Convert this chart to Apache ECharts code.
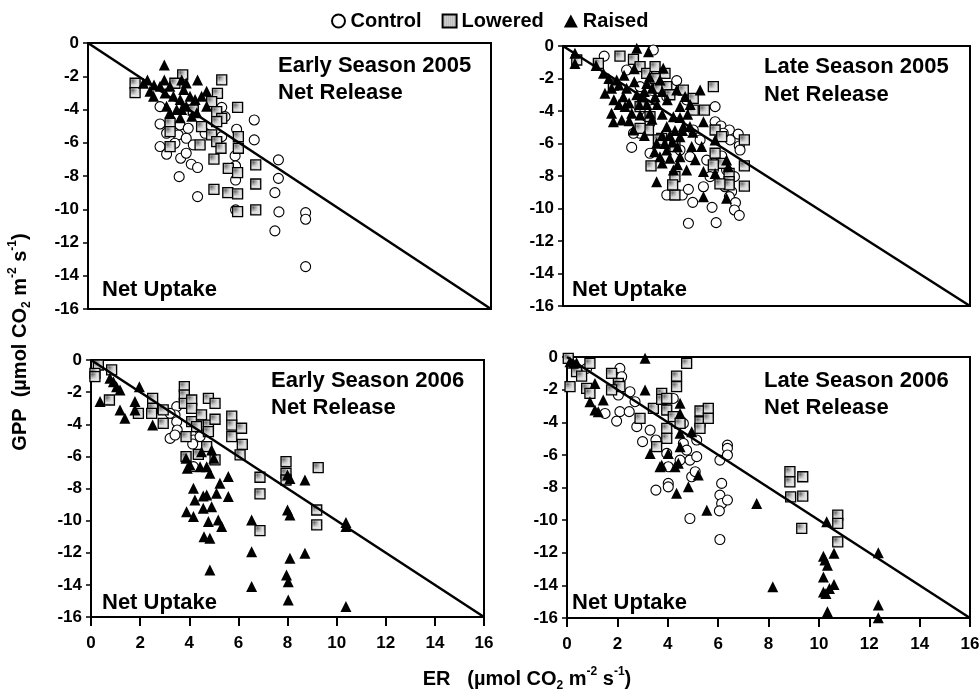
<!DOCTYPE html>
<html>
<head>
<meta charset="utf-8">
<script src="https://cdn.jsdelivr.net/npm/echarts@6/dist/echarts.min.js"></script>
<style>
  html, body { margin: 0; padding: 0; background: #fff; }
  #chart { width: 980px; height: 689px; }
</style>
</head>
<body>
<div id="chart"></div>
<script>
// ER (x) vs GPP (y), µmol CO2 m-2 s-1, by treatment and season
const panelTitles = ['Early Season 2005', 'Late Season 2005', 'Early Season 2006', 'Late Season 2006'];
const treatments = ['Control', 'Lowered', 'Raised'];
const xTicks = [0, 2, 4, 6, 8, 10, 12, 14, 16];
const yTicks = [0, -2, -4, -6, -8, -10, -12, -14, -16];
const oneToOne = [[0, 0], [16, -16]];

const early05Control = [[5.31,-3.87],[6.6,-4.63],[6.6,-5.83],[5.9,-5.19],[7.56,-7.03],[7.56,-8.14],[7.42,-9.0],[7.58,-10.16],[7.42,-11.3],[8.64,-10.2],[8.64,-10.6],[8.64,-13.45],[5.84,-6.79],[5.86,-7.4],[5.86,-8.24],[5.86,-10.04],[2.86,-4.87],[2.86,-6.23],[3.12,-6.69],[3.62,-8.04],[3.68,-6.93],[3.9,-6.63],[4.1,-7.29],[4.35,-7.49],[4.35,-9.24],[3.58,-5.53],[3.9,-5.73],[3.65,-4.93],[3.98,-5.13],[3.12,-5.43],[3.45,-6.03],[4.18,-6.13],[4.65,-5.43],[5.31,-5.63],[2.86,-3.83],[5.44,-4.43]];
const early05Lowered = [[1.87,-2.42],[1.87,-2.99],[3.76,-1.92],[3.45,-2.42],[5.31,-2.22],[5.14,-3.03],[4.91,-3.53],[5.11,-4.13],[5.31,-4.53],[5.11,-4.73],[5.94,-3.87],[4.51,-5.03],[4.45,-6.13],[4.91,-5.53],[5.11,-5.93],[5.28,-6.33],[5.97,-5.63],[5.97,-6.33],[3.26,-4.83],[3.26,-5.33],[3.26,-6.23],[5.0,-6.99],[5.57,-7.54],[5.94,-7.8],[6.66,-7.33],[6.66,-8.48],[5.0,-8.8],[5.55,-9.0],[5.94,-9.08],[5.94,-10.14],[6.66,-10.04],[4.18,-4.03]];
const early05Raised = [[3.03,-1.32],[2.36,-2.22],[2.62,-2.52],[2.2,-2.42],[2.6,-3.2],[3.03,-2.22],[3.06,-3.0],[3.12,-3.8],[3.25,-4.2],[3.72,-2.22],[3.8,-2.8],[3.66,-3.4],[3.72,-4.0],[3.9,-3.8],[4.05,-3.2],[4.35,-2.22],[4.25,-3.4],[4.32,-4.2],[4.71,-2.9],[4.71,-3.8],[4.51,-3.2],[3.52,-4.0],[3.39,-3.2],[2.86,-2.6],[2.46,-2.9],[4.12,-4.4],[3.25,-2.6],[3.9,-2.4],[3.66,-4.5]];

const late05Control = [[1.62,-0.62],[3.55,-0.25],[4.47,-2.13],[5.98,-3.73],[5.98,-4.66],[6.21,-4.92],[6.54,-5.17],[6.89,-5.42],[6.93,-6.15],[6.96,-6.4],[6.57,-5.78],[6.74,-8.04],[6.63,-8.96],[6.54,-9.27],[6.78,-9.64],[6.74,-10.09],[6.93,-10.42],[4.93,-10.91],[6.02,-10.87],[5.1,-9.62],[5.86,-9.93],[4.08,-9.17],[4.69,-9.17],[4.93,-8.82],[2.7,-6.24],[5.65,-7.02],[5.91,-7.63],[5.78,-8.04],[5.52,-8.66],[3.03,-5.37],[3.42,-6.6],[4.99,-6.81],[4.6,-6.4],[6.3,-5.37],[5.39,-5.78],[5.12,-5.17],[4.08,-3.12],[4.86,-3.32],[3.03,-2.5],[2.5,-1.48],[3.42,-3.32],[6.43,-7.63],[6.37,-8.66],[6.24,-6.77],[3.29,-4.35],[3.42,-4.76],[2.77,-5.37]];
const late05Lowered = [[2.24,-0.62],[2.77,-0.82],[3.03,-1.27],[3.29,-1.68],[3.62,-1.27],[4.01,-1.68],[3.75,-2.6],[4.08,-2.5],[4.73,-2.71],[5.12,-3.22],[5.91,-2.5],[5.56,-3.94],[5.12,-3.94],[5.98,-5.17],[6.24,-5.58],[7.13,-5.78],[7.13,-7.38],[7.13,-8.62],[5.98,-6.6],[6.24,-7.22],[5.91,-7.32],[6.53,-7.84],[6.53,-8.35],[6.53,-8.55],[6.17,-8.49],[3.46,-7.38],[3.88,-5.68],[4.4,-6.19],[4.4,-8.04],[4.4,-9.17],[4.31,-8.55],[3.36,-5.17],[3.03,-5.07],[1.98,-2.4],[1.39,-1.07],[0.54,-0.86],[3.75,-5.78],[3.03,-3.73],[3.42,-4.35],[3.62,-2.0],[4.2,-3.0]];
const late05Raised = [[0.47,-0.45],[0.47,-1.07],[1.65,-2.91],[1.91,-2.6],[1.91,-4.14],[1.98,-4.66],[2.31,-4.55],[2.44,-3.73],[2.77,-5.17],[2.7,-4.14],[1.59,-1.68],[2.11,-2.09],[2.37,-3.12],[2.9,-0.14],[3.36,-0.35],[3.94,-1.37],[3.81,-2.09],[3.62,-3.12],[3.42,-4.14],[3.09,-3.12],[3.29,-2.3],[4.47,-2.71],[4.6,-3.73],[4.34,-4.35],[4.08,-4.96],[3.68,-5.99],[4.08,-6.4],[4.34,-7.63],[4.86,-7.63],[3.68,-8.35],[4.6,-5.58],[4.99,-4.96],[5.39,-2.71],[5.52,-4.66],[5.45,-6.19],[5.98,-5.78],[6.43,-7.02],[6.5,-7.43],[5.52,-7.73],[5.98,-7.84],[5.52,-9.27],[6.43,-9.37],[5.06,-6.19],[4.73,-4.96],[3.03,-4.25],[3.81,-6.81],[4.6,-6.81],
  [1.3,-1.2],[1.8,-2.0],[2.0,-3.3],[2.2,-2.4],[2.5,-2.6],[2.6,-3.5],[2.8,-2.2],[2.9,-3.0],[3.0,-3.6],[3.2,-2.8],[3.3,-3.6],[3.5,-4.5],[3.5,-2.6],[3.7,-3.6],[3.9,-4.2],[3.9,-2.8],[4.1,-3.3],[4.2,-5.5],[4.3,-5.9],[4.4,-5.2],[3.9,-5.5],[3.6,-6.5],[3.9,-7.2],[4.2,-6.9],[4.5,-6.2],[4.7,-5.2],[4.9,-4.2],[5.1,-5.3],[5.2,-7.0],[4.5,-7.3],[3.2,-5.5],[2.6,-4.6],[2.2,-3.6],[4.8,-3.1],[5.0,-3.6],[3.4,-1.9],[2.8,-1.4],[2.4,-1.8],[4.0,-6.0],[4.6,-4.4]];

const early06Control = [[3.49,-2.9],[3.42,-3.42],[3.49,-3.84],[3.51,-4.36],[3.22,-4.88],[3.42,-4.67],[4.17,-4.98],[4.14,-5.23],[4.17,-6.64],[4.44,-4.36],[4.44,-4.77],[3.22,-3.32]];
const early06Lowered = [[0.3,-0.31],[0.16,-0.83],[0.16,-1.04],[0.84,-0.62],[0.75,-2.49],[1.93,-3.32],[2.51,-2.39],[2.51,-3.01],[2.47,-3.32],[2.94,-3.11],[2.94,-3.94],[3.8,-1.66],[3.8,-2.18],[3.8,-2.7],[4.1,-2.49],[4.1,-3.01],[4.1,-3.84],[3.87,-4.77],[3.87,-6.02],[4.5,-3.42],[4.5,-4.05],[4.78,-2.39],[4.78,-4.05],[4.78,-4.46],[5.05,-2.7],[5.05,-3.69],[4.37,-5.87],[4.71,-5.39],[5.05,-6.22],[5.73,-3.49],[5.73,-4.05],[5.73,-4.77],[6.13,-4.25],[6.16,-5.25],[6.07,-5.91],[6.88,-7.3],[6.88,-8.34],[6.88,-10.62],[7.94,-6.33],[7.94,-7.05],[7.94,-7.47],[9.25,-6.7],[9.19,-9.34],[9.19,-10.27],[4.3,-4.15]];
const early06Raised = [[0.37,-2.59],[0.77,-1.14],[0.91,-1.35],[1.04,-1.66],[1.18,-1.87],[1.18,-3.11],[1.38,-3.63],[1.79,-2.59],[1.79,-3.11],[1.97,-1.66],[2.51,-4.05],[3.87,-6.12],[3.92,-6.74],[3.89,-9.44],[4.17,-7.99],[4.23,-8.71],[4.17,-9.75],[4.44,-6.64],[4.57,-8.46],[4.57,-9.23],[4.5,-5.71],[4.71,-6.64],[4.71,-8.4],[4.6,-11.0],[4.84,-11.1],[4.78,-10.06],[4.91,-9.13],[4.84,-7.05],[5.0,-6.12],[5.11,-8.3],[5.18,-9.96],[5.25,-7.68],[5.32,-10.37],[5.59,-7.26],[5.59,-8.5],[4.84,-13.07],[4.91,-5.6],[6.54,-9.96],[6.54,-11.93],[6.54,-14.1],[8.0,-7.16],[8.1,-7.37],[8.0,-9.34],[8.1,-9.65],[7.96,-13.38],[8.03,-13.8],[8.03,-14.94],[8.1,-12.34],[8.71,-7.47],[8.71,-12.03],[10.38,-10.12],[10.38,-10.37],[10.38,-15.35],[4.03,-6.54]];

const late06Control = [[0.78,-0.7],[2.1,-0.7],[2.17,-1.21],[2.04,-2.33],[2.5,-2.13],[1.51,-3.46],[1.97,-3.93],[2.1,-3.35],[2.47,-3.35],[2.7,-2.74],[2.77,-4.27],[3.0,-5.19],[3.3,-4.48],[3.53,-5.09],[3.53,-8.16],[4.02,-6.73],[4.02,-7.75],[4.02,-7.96],[4.22,-2.54],[4.62,-4.07],[4.62,-5.3],[4.88,-6.32],[4.95,-7.34],[5.09,-7.03],[5.15,-6.11],[5.15,-5.09],[4.88,-9.9],[6.07,-6.32],[6.14,-7.75],[6.07,-8.47],[6.14,-8.98],[6.05,-9.43],[6.07,-11.19],[6.37,-8.77],[6.37,-5.4],[6.37,-5.6],[6.37,-6.01],[4.75,-5.71],[3.96,-5.91],[4.49,-6.32]];
const late06Lowered = [[0.05,-0.08],[0.12,-1.82],[0.91,-0.39],[0.38,-0.9],[0.58,-1.17],[0.78,-1.92],[0.91,-2.23],[1.77,-1.0],[2.04,-1.62],[2.1,-1.82],[1.77,-2.02],[2.9,-3.76],[3.43,-3.15],[3.76,-2.23],[3.76,-2.6],[3.96,-2.54],[3.96,-3.25],[3.96,-4.38],[3.96,-4.99],[4.35,-1.17],[4.35,-1.82],[4.75,-0.39],[4.22,-3.66],[4.49,-4.07],[5.28,-3.31],[5.28,-3.97],[5.28,-4.38],[5.61,-3.15],[5.61,-3.76],[3.56,-5.5],[8.85,-7.03],[8.85,-7.65],[8.88,-8.57],[9.36,-7.34],[9.36,-8.53],[9.32,-10.51],[10.75,-9.69],[10.75,-10.2],[10.75,-11.33]];
const late06Raised = [[0.12,-0.29],[0.25,-0.39],[0.38,-0.35],[3.1,-0.08],[3.1,-2.02],[1.11,-1.62],[0.91,-2.74],[1.11,-3.25],[1.24,-3.35],[1.44,-2.64],[3.3,-5.91],[3.69,-6.73],[3.76,-6.63],[4.02,-5.91],[4.29,-6.73],[4.42,-6.52],[4.35,-8.36],[4.49,-2.84],[4.49,-3.46],[4.49,-4.68],[4.49,-5.5],[4.95,-4.58],[4.82,-7.96],[5.21,-7.24],[5.55,-9.39],[7.53,-8.98],[8.17,-14.09],[10.31,-10.1],[10.18,-12.21],[10.24,-12.45],[10.34,-12.76],[10.6,-12.03],[10.18,-13.48],[10.18,-14.4],[10.28,-14.5],[10.42,-14.19],[10.6,-13.95],[10.34,-15.62],[12.36,-12.0],[12.36,-15.21],[12.36,-15.98]];

const panelData = [
  [early05Control, early05Lowered, early05Raised],
  [late05Control, late05Lowered, late05Raised],
  [early06Control, early06Lowered, early06Raised],
  [late06Control, late06Lowered, late06Raised]
];

const FONT = '"Liberation Sans", Arial, Helvetica, sans-serif';

// dotted grey fill for the "Lowered" squares
function stipple() {
  const c = document.createElement('canvas');
  c.width = 2; c.height = 2;
  const g = c.getContext('2d');
  g.fillStyle = '#e4e4e4';
  g.fillRect(0, 0, 2, 2);
  g.fillStyle = '#6a6a6a';
  g.fillRect(1, 1, 1, 1);
  return c;
}
const dotFill = { image: stipple(), repeat: 'repeat' };

const symbolStyles = [
  { symbol: 'circle', symbolSize: 10, itemStyle: { color: '#ffffff', borderColor: '#000', borderWidth: 1.1, opacity: 1 }, z: 2 },
  { symbol: 'rect', symbolSize: 10, itemStyle: { color: dotFill, borderColor: '#000', borderWidth: 1.3, opacity: 1 }, z: 3 },
  { symbol: 'triangle', symbolSize: [11, 11], itemStyle: { color: '#000', borderWidth: 0, opacity: 1 }, z: 4 }
];

const grids = [
  { left: 88, top: 43, width: 403, height: 266 },
  { left: 563, top: 46, width: 407, height: 260 },
  { left: 91, top: 360, width: 393, height: 257 },
  { left: 567, top: 357, width: 403, height: 261 }
].map(g => Object.assign({ show: true, borderColor: '#000', borderWidth: 2, backgroundColor: 'transparent', outerBoundsMode: 'none', containLabel: false }, g));

const tickLabelStyle = { color: '#000', fontFamily: FONT, fontWeight: 'bold', fontSize: 17 };

const xAxes = grids.map((g, i) => ({
  type: 'value', gridIndex: i, min: xTicks[0], max: xTicks[xTicks.length - 1], interval: xTicks[1] - xTicks[0],
  axisLine: { show: true, onZero: false, lineStyle: { color: '#000', width: 2 } },
  axisTick: { show: i >= 2, length: 9, lineStyle: { color: '#000', width: 2 } },
  axisLabel: Object.assign({ show: i >= 2, margin: 18 }, tickLabelStyle),
  splitLine: { show: false }
}));

const yAxes = grids.map((g, i) => ({
  type: 'value', gridIndex: i, min: yTicks[yTicks.length - 1], max: yTicks[0], interval: yTicks[0] - yTicks[1],
  axisLine: { show: true, onZero: false, lineStyle: { color: '#000', width: 2 } },
  axisTick: { show: true, length: 5, lineStyle: { color: '#000', width: 1.5 } },
  axisLabel: Object.assign({ margin: 9 }, tickLabelStyle),
  splitLine: { show: false }
}));

const series = [];
panelData.forEach((sets, i) => {
  sets.forEach((pts, k) => {
    series.push(Object.assign({
      name: treatments[k], type: 'scatter', xAxisIndex: i, yAxisIndex: i, data: pts
    }, symbolStyles[k]));
  });
  series.push({
    name: '1:1', type: 'line', xAxisIndex: i, yAxisIndex: i, data: oneToOne,
    showSymbol: false, silent: true, z: 6,
    lineStyle: { color: '#000', width: 2.5 }
  });
});

const panelText = (x, y, text) => ({
  type: 'text', x, y, z: 100, silent: true,
  style: { text, font: 'bold 22px ' + FONT, fill: '#000', align: 'left', verticalAlign: 'middle' }
});

const unitRich = {
  b: { fontFamily: FONT, fontWeight: 'bold', fontSize: 20, lineHeight: 26, verticalAlign: 'middle', color: '#000' },
  s: { fontFamily: FONT, fontWeight: 'bold', fontSize: 12, lineHeight: 12, verticalAlign: 'bottom', color: '#000' },
  p: { fontFamily: FONT, fontWeight: 'bold', fontSize: 12, lineHeight: 12, verticalAlign: 'top', color: '#000' }
};
const unitText = '{b|(µmol CO}{s|2}{b| m}{p|-2}{b| s}{p|-1}{b|)}';

const graphics = [
  panelText(278, 66, panelTitles[0]), panelText(278, 93, 'Net Release'), panelText(102, 290, 'Net Uptake'),
  panelText(764, 67, panelTitles[1]), panelText(764, 95, 'Net Release'), panelText(572, 290, 'Net Uptake'),
  panelText(271, 381, panelTitles[2]), panelText(271, 408, 'Net Release'), panelText(102, 603, 'Net Uptake'),
  panelText(764, 381, panelTitles[3]), panelText(764, 408, 'Net Release'), panelText(572, 603, 'Net Uptake'),
  {
    type: 'text', x: 20, y: 342, rotation: Math.PI / 2, silent: true,
    style: { text: '{b|GPP  }' + unitText, rich: unitRich, align: 'center', verticalAlign: 'middle' }
  },
  {
    type: 'text', x: 527, y: 679, silent: true,
    style: { text: '{b|ER   }' + unitText, rich: unitRich, align: 'center', verticalAlign: 'middle' }
  }
];

const chart = echarts.init(document.getElementById('chart'), null, { renderer: 'canvas' });
chart.setOption({
  animation: false,
  backgroundColor: '#fff',
  legend: {
    data: treatments, left: 326, top: 6, itemWidth: 14, itemHeight: 13, itemGap: 20,
    textStyle: { color: '#000', fontFamily: FONT, fontWeight: 'bold', fontSize: 20 },
    selectedMode: false
  },
  grid: grids,
  xAxis: xAxes,
  yAxis: yAxes,
  series,
  graphic: graphics
});
</script>
</body>
</html>
